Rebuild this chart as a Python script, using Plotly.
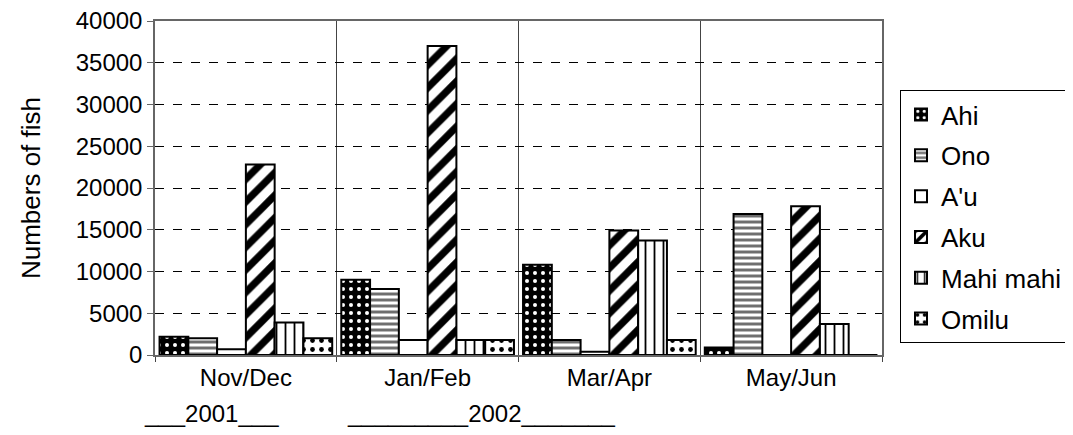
import plotly.graph_objects as go

categories = ["Nov/Dec", "Jan/Feb", "Mar/Apr", "May/Jun"]
series_names = ["Ahi", "Ono", "A'u", "Aku", "Mahi mahi", "Omilu"]
ahi = [2200, 9000, 10800, 900]
ono = [2000, 7900, 1800, 16900]
au = [700, 1800, 400, 0]
aku = [22800, 37000, 14900, 17800]
mahi = [3900, 1800, 13700, 3700]
omilu = [2000, 1800, 1800, 0]
y_ticks = [0, 5000, 10000, 15000, 20000, 25000, 30000, 35000, 40000]

series_values = [ahi, ono, au, aku, mahi, omilu]
patterns = [
    dict(shape=".", bgcolor="black", fgcolor="white", size=8, solidity=0.2, fillmode="replace"),
    dict(shape="-", bgcolor="white", fgcolor="#6e6e6e", size=6, solidity=0.5, fillmode="replace"),
    dict(shape="", bgcolor="white", fgcolor="white", fillmode="replace"),
    dict(shape="/", bgcolor="white", fgcolor="black", size=16, solidity=0.45, fillmode="replace"),
    dict(shape="|", bgcolor="white", fgcolor="black", size=9, solidity=0.2, fillmode="replace"),
    dict(shape=".", bgcolor="white", fgcolor="black", size=9, solidity=0.22, fillmode="replace"),
]

FONT = "Liberation Sans, Arial, sans-serif"

fig = go.Figure()
for name, vals, pat in zip(series_names, series_values, patterns):
    fig.add_trace(go.Bar(
        name=name, x=categories, y=vals,
        marker=dict(color="white", pattern=pat, line=dict(color="black", width=2)),
        legendgroup=name,
    ))

fig.update_layout(
    width=1065, height=427,
    margin=dict(l=147, r=191, t=13, b=80, autoexpand=False),
    paper_bgcolor="white", plot_bgcolor="white",
    barmode="group", bargap=0.05, bargroupgap=0,
    font=dict(family=FONT, size=24, color="black"),
    showlegend=True,
    legend=dict(
        x=1.0248, y=0.793, xanchor="left", yanchor="top",
        bordercolor="black", borderwidth=1, bgcolor="white",
        font=dict(family=FONT, size=26, color="black"),
        tracegroupgap=4, itemsizing="constant",
    ),
    xaxis=dict(
        type="category", tickson="boundaries",
        showgrid=True, gridcolor="#444", gridwidth=1,
        ticks="outside", ticklen=5, tickcolor="#444",
        showline=True, linecolor="#666", linewidth=1.5, mirror=True,
        tickfont=dict(size=24),
    ),
    yaxis=dict(
        range=[0, 40000], tickvals=y_ticks, ticktext=[str(v) for v in y_ticks],
        showgrid=True, gridcolor="black", gridwidth=1, griddash="dash",
        ticks="outside", ticklen=6, tickcolor="#666",
        showline=True, linecolor="#666", linewidth=1.5, mirror=True,
        tickfont=dict(size=24), ticklabeloverflow="allow",
        title=dict(text="Numbers of fish", font=dict(size=26), standoff=28),
        zeroline=False,
    ),
    annotations=[
        dict(text="___2001___", x=0.078, y=-0.175, xref="paper", yref="paper",
             showarrow=False, xanchor="center", yanchor="middle", font=dict(size=24)),
        dict(text="_________2002_______", x=0.449, y=-0.175, xref="paper", yref="paper",
             showarrow=False, xanchor="center", yanchor="middle", font=dict(size=24)),
    ],
)

fig.write_html("out.html")
